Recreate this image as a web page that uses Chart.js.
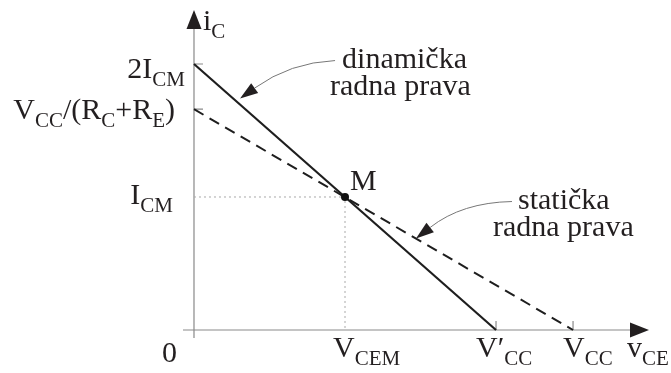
<!DOCTYPE html>
<html>
<head>
<meta charset="utf-8">
<script src="https://cdn.jsdelivr.net/npm/chart.js@4"></script>
<style>
  html, body { margin: 0; padding: 0; background: #fff; }
  #wrap { width: 671px; height: 373px; }
</style>
</head>
<body>
<div id="wrap"><canvas id="chart" width="671" height="373"></canvas></div>
<script>
/* =============================================
   DATA (normalised: V_CEM = 1, I_CM = 1)
   ============================================= */
const xTickValues = [0, 1, 2, 2.51];
const xTickLabels = ['0', 'V_{CEM}', 'V′_{CC}', 'V_{CC}'];
const yTickValues = [1, 1.66, 2];
const yTickLabels = ['I_{CM}', 'V_{CC}/(R_{C}+R_{E})', '2I_{CM}'];
const dynamicX = [0, 2];
const dynamicY = [2, 0];
const staticX = [0, 2.51];
const staticY = [1.66, 0];
const qPoint = [1, 1];
const qLabel = 'M';
const xAxisName = 'v_{CE}';
const yAxisName = 'i_{C}';
const dynamicNote = ['dinamička', 'radna prava'];
const staticNote = ['statička', 'radna prava'];
const dynamicNoteAt = 0.305;   // x where the arrow hits the line
const staticNoteAt = 1.47;

/* =============================================
   STYLE (pixel offsets for labels)
   ============================================= */
const INK = '#231f20';
const FONT = '30px "Liberation Serif", "DejaVu Serif", serif';
const SUB_FONT = '21px "Liberation Serif", "DejaVu Serif", serif';
const SUB_DROP = 8;
const xLabelOffsets = [[-32, 32], [-12, 27], [-20, 27], [-10, 27]];
const yLabelOffsets = [[-21, 7], [-19, 10], [-9, 14]];

/** Split 'V_{CC}' into normal / subscript runs */
function parseRich(s) {
  const out = [];
  const re = /_\{([^}]*)\}/g;
  let last = 0, m;
  while ((m = re.exec(s))) {
    if (m.index > last) out.push({ t: s.slice(last, m.index) });
    out.push({ t: m[1], sub: true });
    last = re.lastIndex;
  }
  if (last < s.length) out.push({ t: s.slice(last) });
  return out;
}

/** Draw text with subscripts; align 'left' or 'right' */
function drawRich(ctx, s, x, y, align) {
  const runs = parseRich(s);
  let total = 0;
  runs.forEach(r => {
    ctx.font = r.sub ? SUB_FONT : FONT;
    r.w = ctx.measureText(r.t).width;
    total += r.w;
  });
  let cx = align === 'right' ? x - total : x;
  ctx.textAlign = 'left';
  ctx.textBaseline = 'alphabetic';
  runs.forEach(r => {
    ctx.font = r.sub ? SUB_FONT : FONT;
    ctx.fillText(r.t, cx, r.sub ? y + SUB_DROP : y);
    cx += r.w;
  });
}

function arrowHead(ctx, tipX, tipY, dx, dy, len, half) {
  const n = Math.hypot(dx, dy);
  const ux = dx / n, uy = dy / n;
  const bx = tipX - ux * len, by = tipY - uy * len;
  ctx.beginPath();
  ctx.moveTo(tipX, tipY);
  ctx.lineTo(bx - uy * half, by + ux * half);
  ctx.lineTo(bx + uy * half, by - ux * half);
  ctx.closePath();
  ctx.fill();
  return [bx, by];
}

/** Curved leader with arrow ending on a line */
function leader(ctx, tip, start, ctrl) {
  ctx.fillStyle = INK;
  const base = arrowHead(ctx, tip[0], tip[1], tip[0] - ctrl[0], tip[1] - ctrl[1], 18, 6);
  ctx.strokeStyle = '#777';
  ctx.lineWidth = 1;
  ctx.setLineDash([]);
  ctx.beginPath();
  ctx.moveTo(start[0], start[1]);
  ctx.quadraticCurveTo(ctrl[0], ctrl[1], base[0], base[1]);
  ctx.stroke();
}

function lineY(xs, ys, x) {
  return ys[0] + (ys[1] - ys[0]) * (x - xs[0]) / (xs[1] - xs[0]);
}

/* =============================================
   DRAWING PLUGIN (axes, labels, notes)
   ============================================= */
const diagramPlugin = {
  id: 'diagram',
  beforeDatasetsDraw(chart) {
    const { ctx, scales: { x, y } } = chart;
    const x0 = x.getPixelForValue(0), y0 = y.getPixelForValue(0);
    const xEnd = x.getPixelForValue(x.max), yEnd = y.getPixelForValue(y.max);
    ctx.save();
    ctx.strokeStyle = '#8a8a8a';
    ctx.lineWidth = 1.2;
    ctx.beginPath();
    ctx.moveTo(x.getPixelForValue(x.min), y0);
    ctx.lineTo(xEnd - 15, y0);
    ctx.moveTo(x0, y.getPixelForValue(y.min));
    ctx.lineTo(x0, yEnd + 15);
    // small ticks
    xTickValues.forEach(v => {
      if (v === 0 || v === qPoint[0]) return;
      const px = x.getPixelForValue(v);
      ctx.moveTo(px, y0);
      ctx.lineTo(px, y0 - 9);
    });
    yTickValues.forEach(v => {
      if (v === qPoint[1]) return;
      const py = y.getPixelForValue(v);
      ctx.moveTo(x0, py);
      ctx.lineTo(x0 + 9, py);
    });
    ctx.stroke();
    ctx.fillStyle = INK;
    arrowHead(ctx, xEnd, y0, 1, 0, 19, 7.5);
    arrowHead(ctx, x0, yEnd, 0, -1, 19, 7.5);
    ctx.restore();
  },
  afterDatasetsDraw(chart) {
    const { ctx, scales: { x, y } } = chart;
    const x0 = x.getPixelForValue(0), y0 = y.getPixelForValue(0);
    ctx.save();
    ctx.fillStyle = INK;

    xTickValues.forEach((v, i) => {
      const [dx, dy] = xLabelOffsets[i];
      drawRich(ctx, xTickLabels[i], x.getPixelForValue(v) + dx, y0 + dy, 'left');
    });
    yTickValues.forEach((v, i) => {
      const [dx, dy] = yLabelOffsets[i];
      drawRich(ctx, yTickLabels[i], x0 + dx, y.getPixelForValue(v) + dy, 'right');
    });
    drawRich(ctx, xAxisName, x.getPixelForValue(x.max) - 22, y0 + 27, 'left');
    drawRich(ctx, yAxisName, x0 + 9, y.getPixelForValue(y.max) + 20, 'left');
    drawRich(ctx, qLabel, x.getPixelForValue(qPoint[0]) + 5, y.getPixelForValue(qPoint[1]) - 7, 'left');

    // dynamic load line note
    const dTip = [x.getPixelForValue(dynamicNoteAt),
                  y.getPixelForValue(lineY(dynamicX, dynamicY, dynamicNoteAt)) - 6];
    leader(ctx, dTip, [dTip[0] + 95, dTip[1] - 38], [dTip[0] + 50, dTip[1] - 36]);
    ctx.fillStyle = INK;
    ctx.font = FONT;
    ctx.fillText(dynamicNote[0], dTip[0] + 102, dTip[1] - 31);
    ctx.fillText(dynamicNote[1], dTip[0] + 90, dTip[1] - 4);

    // static load line note
    const sTip = [x.getPixelForValue(staticNoteAt),
                  y.getPixelForValue(lineY(staticX, staticY, staticNoteAt))];
    leader(ctx, sTip, [sTip[0] + 96, sTip[1] - 37], [sTip[0] + 46, sTip[1] - 36]);
    ctx.fillStyle = INK;
    ctx.font = FONT;
    ctx.fillText(staticNote[0], sTip[0] + 102, sTip[1] - 30);
    ctx.fillText(staticNote[1], sTip[0] + 77, sTip[1] - 3);
    ctx.restore();
  }
};

/* =============================================
   CHART
   ============================================= */
const pts = (xs, ys) => xs.map((v, i) => ({ x: v, y: ys[i] }));

new Chart(document.getElementById('chart').getContext('2d'), {
  type: 'scatter',
  data: {
    datasets: [
      { data: [{ x: qPoint[0], y: qPoint[1] }], pointRadius: 4, pointBackgroundColor: '#111',
        pointBorderWidth: 0, showLine: false, order: 0 },
      { data: pts(dynamicX, dynamicY), showLine: true, borderColor: '#1e1e1e', borderWidth: 2.2,
        pointRadius: 0, order: 1 },
      { data: pts(staticX, staticY), showLine: true, borderColor: '#1e1e1e', borderWidth: 2,
        borderDash: [11, 7], pointRadius: 0, order: 2 },
      { data: [{ x: 0, y: qPoint[1] }, { x: qPoint[0], y: qPoint[1] }, { x: qPoint[0], y: 0 }],
        showLine: true, borderColor: '#a8a8a8', borderWidth: 1, borderDash: [2, 3],
        pointRadius: 0, order: 3 }
    ]
  },
  options: {
    responsive: false,
    animation: false,
    layout: { padding: { left: 183, right: 22, top: 10, bottom: 35 } },
    scales: {
      x: { type: 'linear', display: false, min: -0.0728, max: 3.013 },
      y: { type: 'linear', display: false, min: -0.0602, max: 2.406 }
    },
    plugins: { legend: { display: false }, tooltip: { enabled: false } }
  },
  plugins: [diagramPlugin]
});
</script>
</body>
</html>
